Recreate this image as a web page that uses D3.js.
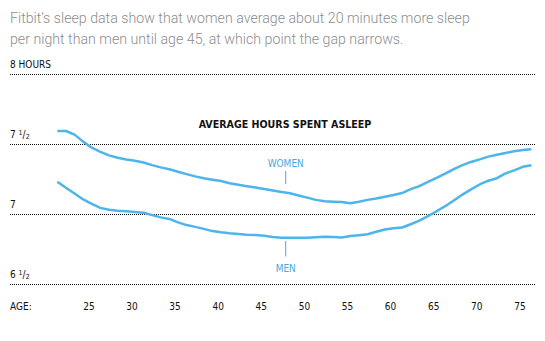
<!DOCTYPE html>
<html>
<head>
<meta charset="utf-8">
<script src="https://cdn.jsdelivr.net/npm/d3@7"></script>
<style>
    body { margin: 0; background: #fff; }
    #chart svg { display: block; }
    .title { font-family: Roboto, "Open Sans", sans-serif; font-size: 14.2px; fill: #8d8d8d; font-weight: 300; }
    .axis-label { font-family: "DejaVu Sans Condensed", "Liberation Sans Narrow", "DejaVu Sans", sans-serif; font-stretch: condensed; font-size: 10px; fill: #111; }
    .grid { stroke: #111; stroke-width: 1; stroke-dasharray: 1, 1; fill: none; }
    .series { fill: none; stroke: #4db5ea; stroke-width: 2.5; stroke-linejoin: round; }
    .series-label { font-family: "DejaVu Sans Condensed", "Liberation Sans Narrow", "DejaVu Sans", sans-serif; font-stretch: condensed; font-size: 10px; fill: #4aa7d9; }
    .heading { font-family: "DejaVu Sans Condensed", "Liberation Sans Narrow", "DejaVu Sans", sans-serif; font-stretch: condensed; font-size: 10.6px; font-weight: bold; fill: #111; }
</style>
</head>
<body>
<div id="chart"></div>
<script>
// ages 22..77, one point per year
const ages = d3.range(22, 78);

const women = [7.595, 7.595, 7.569, 7.519, 7.476, 7.446, 7.421, 7.404, 7.392, 7.382,
    7.370, 7.351, 7.335, 7.322, 7.304, 7.287, 7.271, 7.257, 7.247, 7.238,
    7.222, 7.211, 7.201, 7.191, 7.181, 7.170, 7.160, 7.150, 7.134, 7.119,
    7.103, 7.093, 7.090, 7.088, 7.079, 7.089, 7.103, 7.113, 7.125, 7.138,
    7.152, 7.180, 7.201, 7.231, 7.261, 7.291, 7.323, 7.351, 7.374, 7.392,
    7.412, 7.425, 7.438, 7.451, 7.459, 7.465];

const men = [7.233, 7.190, 7.149, 7.106, 7.074, 7.046, 7.032, 7.025, 7.021, 7.016,
    7.011, 6.994, 6.978, 6.967, 6.942, 6.923, 6.910, 6.896, 6.880, 6.871,
    6.864, 6.859, 6.854, 6.852, 6.847, 6.838, 6.833, 6.833, 6.833, 6.833,
    6.836, 6.840, 6.838, 6.835, 6.845, 6.851, 6.858, 6.875, 6.891, 6.901,
    6.906, 6.929, 6.955, 6.987, 7.022, 7.058, 7.099, 7.141, 7.178, 7.213,
    7.240, 7.258, 7.292, 7.314, 7.339, 7.351];

const ageTicks = [25, 30, 35, 40, 45, 50, 55, 60, 65, 70, 75];
const hourTicks = [6.5, 7, 7.5, 8];

const titleLines = [
    "Fitbit\u2019s sleep data show that women average about 20 minutes more sleep",
    "per night than men until age 45, at which point the gap narrows."
];

document.addEventListener("DOMContentLoaded", function () {

    const width = 545,
        height = 341;

    const svg = d3.select('#chart')
        .append('svg')
        .attr('width', width)
        .attr('height', height);

    const x = d3.scaleLinear().domain([22, 77]).range([57.3, 531.4]);
    const y = d3.scaleLinear().domain([6.5, 8]).range([284.3, 74.3]);

    /* Title */
    svg.append('g')
        .selectAll('text')
        .data(titleLines)
        .join('text')
        .attr('class', 'title')
        .attr('x', 10)
        .attr('y', (d, i) => 23 + i * 21)
        .text(d => d);

    /* Horizontal grid + labels */
    svg.append('g')
        .selectAll('line')
        .data(hourTicks)
        .join('line')
        .attr('class', 'grid')
        .attr('x1', 10)
        .attr('x2', 536)
        .attr('y1', d => Math.round(y(d)) + 0.5)
        .attr('y2', d => Math.round(y(d)) + 0.5);

    const hourLabel = svg.append('g')
        .selectAll('text')
        .data(hourTicks)
        .join('text')
        .attr('class', 'axis-label')
        .attr('x', 10)
        .attr('y', d => y(d) - 6.5);

    hourLabel.each(function (d) {
        let t = d3.select(this);
        let whole = Math.floor(d);
        if (d === 8) {
            t.text('8 HOURS');
        } else if (d % 1) {
            t.append('tspan').text(whole + ' ');
            t.append('tspan').attr('font-size', '7px').attr('dy', -3).text('1');
            t.append('tspan').attr('dy', 3).text('/');
            t.append('tspan').attr('font-size', '7px').attr('dy', 1).text('2');
        } else {
            t.text(whole);
        }
    });

    /* Age axis */
    svg.append('text')
        .attr('class', 'axis-label')
        .attr('x', 10)
        .attr('y', 310)
        .text('AGE:');

    svg.append('g')
        .selectAll('text')
        .data(ageTicks)
        .join('text')
        .attr('class', 'axis-label')
        .attr('x', d => x(d))
        .attr('y', 310)
        .text(d => d);

    /* Heading */
    svg.append('text')
        .attr('class', 'heading')
        .attr('x', 285)
        .attr('y', 128.3)
        .attr('text-anchor', 'middle')
        .text('AVERAGE HOURS SPENT ASLEEP');

    /* Lines */
    const line = d3.line()
        .x((d, i) => x(ages[i]))
        .y(d => y(d));

    svg.append('g')
        .selectAll('path')
        .data([women, men])
        .join('path')
        .attr('class', 'series')
        .attr('d', line);

    /* Series labels */
    const labelAge = 48.5;

    svg.append('line')
        .attr('x1', x(labelAge)).attr('x2', x(labelAge))
        .attr('y1', 171).attr('y2', 184)
        .attr('stroke', '#4aa7d9').attr('stroke-width', 1);

    svg.append('text')
        .attr('class', 'series-label')
        .attr('x', x(labelAge))
        .attr('y', 166.7)
        .attr('text-anchor', 'middle')
        .text('WOMEN');

    svg.append('line')
        .attr('x1', x(labelAge)).attr('x2', x(labelAge))
        .attr('y1', 241).attr('y2', 256.5)
        .attr('stroke', '#4aa7d9').attr('stroke-width', 1);

    svg.append('text')
        .attr('class', 'series-label')
        .attr('x', x(labelAge))
        .attr('y', 272)
        .attr('text-anchor', 'middle')
        .text('MEN');

});
</script>
</body>
</html>
